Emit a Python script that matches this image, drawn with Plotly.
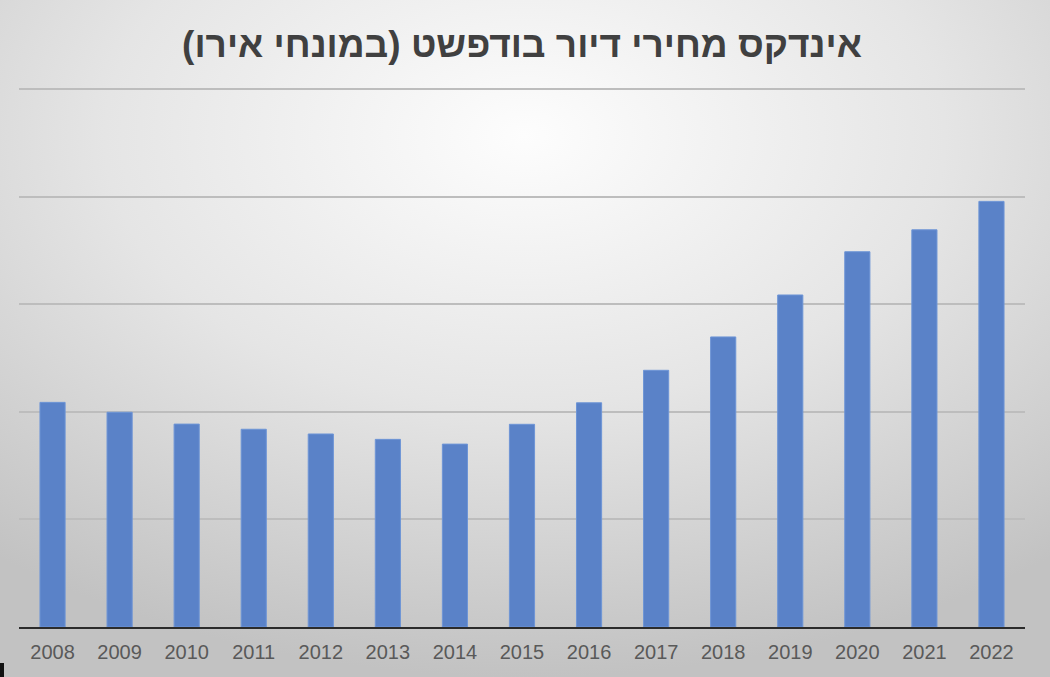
import base64
import plotly.graph_objects as go

years = ["2008", "2009", "2010", "2011", "2012", "2013", "2014", "2015",
         "2016", "2017", "2018", "2019", "2020", "2021", "2022"]
index_values = [104.4, 99.8, 94.3, 91.9, 89.7, 87.2, 85.0, 94.2,
                104.2, 119.3, 134.8, 154.3, 174.4, 184.6, 197.8]
title_text = "אינדקס מחירי דיור בודפשט (במונחי אירו)"

W, H = 1050, 677
L, R, T, B = 19, 25, 88, 50
pw, ph = W - L - R, H - T - B

svg = (
    '<svg xmlns="http://www.w3.org/2000/svg" width="1050" height="677" '
    'viewBox="0 0 1050 677" preserveAspectRatio="none">'
    '<defs><radialGradient id="g" cx="50%" cy="20%" r="80%" fx="50%" fy="20%">'
    '<stop offset="0" stop-color="#fdfdfd"/>'
    '<stop offset="0.5" stop-color="#e5e5e5"/>'
    '<stop offset="1" stop-color="#c2c2c2"/>'
    '</radialGradient></defs>'
    '<rect width="1050" height="677" fill="url(#g)"/></svg>'
)
bg_src = "data:image/svg+xml;base64," + base64.b64encode(svg.encode()).decode()

fig = go.Figure(go.Bar(
    x=years, y=index_values,
    marker=dict(color="#5a82c8", line=dict(color="#6e95d6", width=1)),
    width=0.375,
))

fig.update_layout(
    width=W, height=H,
    margin=dict(l=L, r=R, t=T, b=B),
    paper_bgcolor="#dcdcdc",
    plot_bgcolor="rgba(0,0,0,0)",
    showlegend=False,
    title=dict(
        text=title_text + "\u200f",
        x=0.5, xanchor="center", xref="paper",
        y=1 - 44 / H, yanchor="middle",
        font=dict(family="Liberation Sans, Arial", size=37, color="#404040",
                  weight="bold"),
    ),
    xaxis=dict(
        showgrid=False, showline=True, linecolor="#2b2b2b", linewidth=2,
        ticks="", ticklabelstandoff=6,
        tickfont=dict(family="Liberation Sans, Arial", size=20,
                      color="#595959"),
        fixedrange=True,
    ),
    yaxis=dict(
        range=[0, 250.5], tickvals=[50, 100, 150, 200, 250],
        showticklabels=False,
        showgrid=True, gridcolor="#bdbdbd", gridwidth=1.5,
        zeroline=False, fixedrange=True,
    ),
    images=[dict(
        source=bg_src, xref="paper", yref="paper",
        x=-L / pw, y=1 + T / ph, sizex=W / pw, sizey=H / ph,
        xanchor="left", yanchor="top", sizing="stretch", layer="below",
    )],
    shapes=[dict(type="rect", xref="paper", yref="paper",
                 x0=-L / pw, x1=(-L + 4) / pw,
                 y0=-B / ph, y1=(-B + 14) / ph,
                 fillcolor="#111111", line=dict(width=0))],
)

fig.write_html("out.html")
